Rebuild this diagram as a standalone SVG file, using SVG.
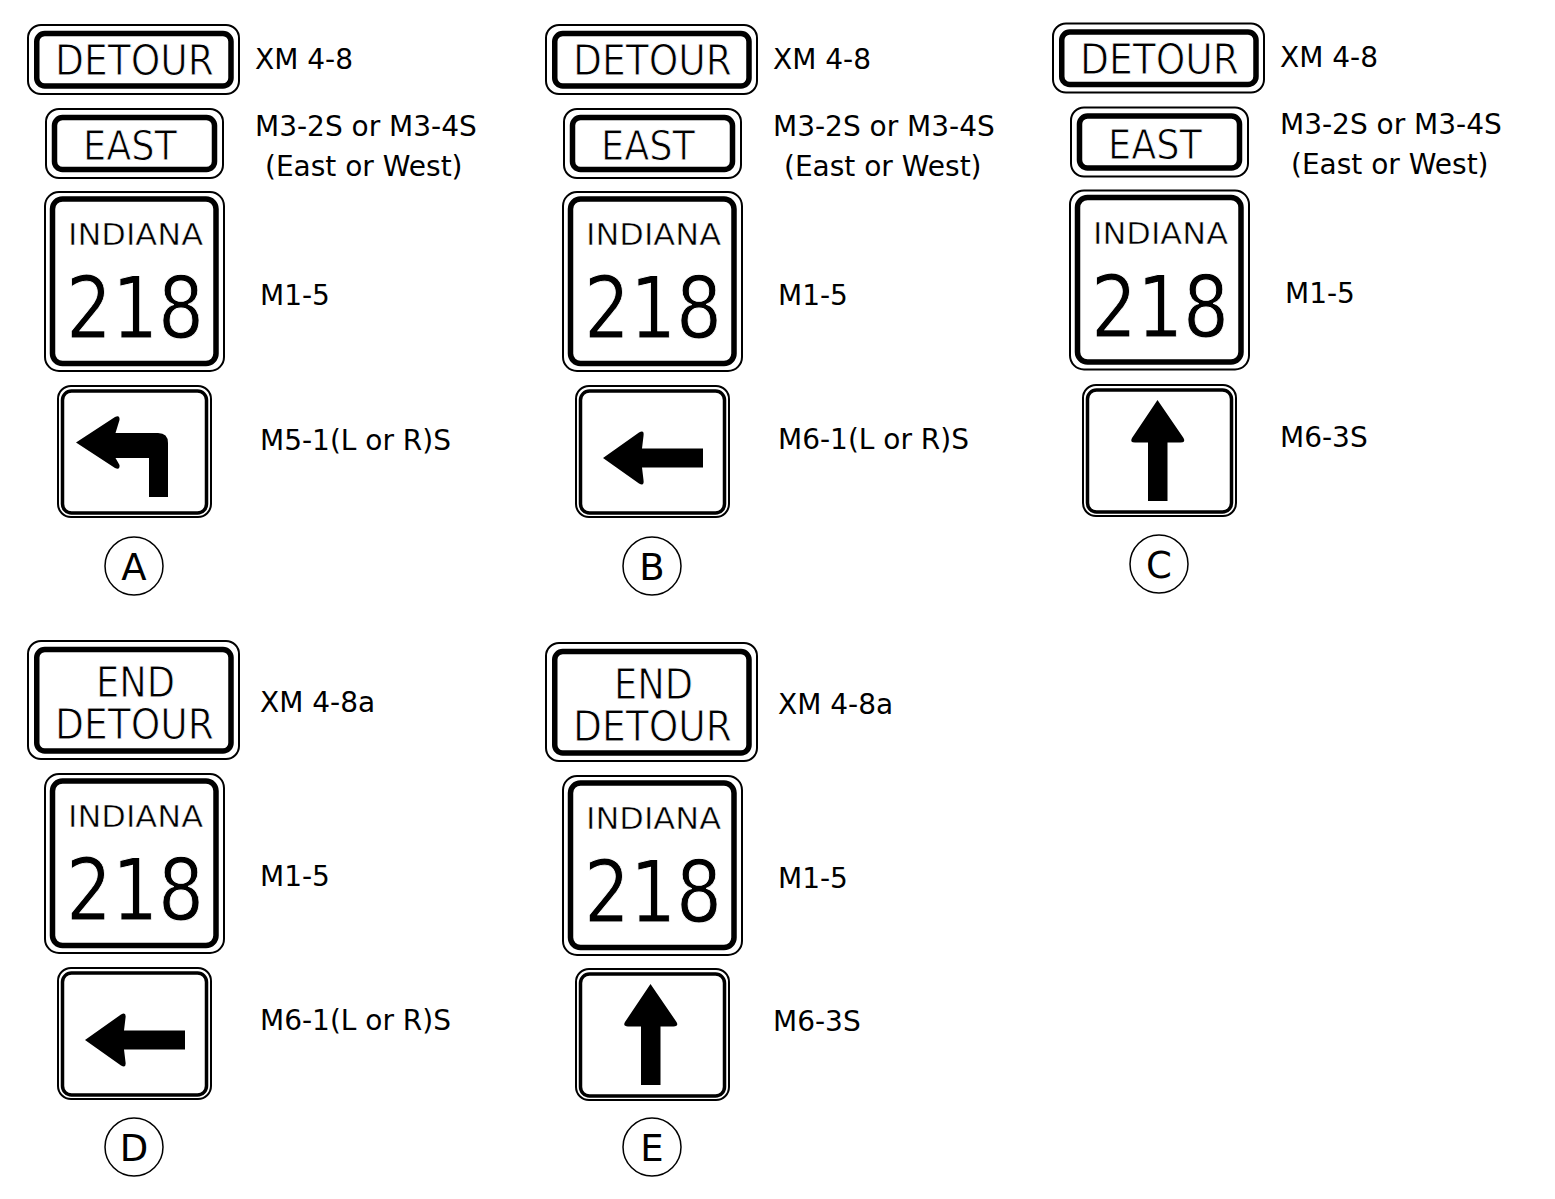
<svg xmlns="http://www.w3.org/2000/svg" width="1555" height="1199" viewBox="0 0 1555 1199">
<style>
.o{fill:#fff;stroke:#000;stroke-width:2}
.t{fill:none;stroke:#000;stroke-width:5.5}
.a{fill:none;stroke:#000;stroke-width:3.5}
.ar{fill:#000;stroke:none}
.s{font-family:"DejaVu Sans",Verdana,sans-serif;fill:#000;stroke:#fff;stroke-width:0.9}
.s2{font-family:"DejaVu Sans",Verdana,sans-serif;fill:#000;stroke:#fff;stroke-width:0.5}
.lbl{font-family:"DejaVu Sans",Verdana,sans-serif;font-size:28px;fill:#000}
.c{fill:#fff;stroke:#000;stroke-width:1.5}
.cl{font-family:"DejaVu Sans",Verdana,sans-serif;font-size:37px;text-anchor:middle;fill:#000}
</style>
<defs>
<g id="detour">
<rect class="o" x="28" y="25" width="211" height="69" rx="13"/>
<rect class="t" x="36.75" y="33.5" width="194.25" height="52.5" rx="8"/>
<text class="s" x="55" y="75" font-size="42" textLength="159" lengthAdjust="spacingAndGlyphs">DETOUR</text>
</g>
<g id="east">
<rect class="o" x="46" y="109" width="177" height="69" rx="13"/>
<rect class="t" x="54.5" y="117.5" width="160" height="52" rx="8"/>
<text class="s" x="83" y="160" font-size="41" textLength="94" lengthAdjust="spacingAndGlyphs">EAST</text>
</g>
<g id="indiana">
<rect class="o" x="45" y="192" width="179" height="179" rx="14"/>
<rect class="t" x="52.5" y="199" width="163.5" height="164.5" rx="10"/>
<text class="s2" x="68" y="245" font-size="30" textLength="135" lengthAdjust="spacingAndGlyphs">INDIANA</text>
<text class="s" x="66" y="338" font-size="85" textLength="138" lengthAdjust="spacingAndGlyphs">218</text>
</g>
<g id="plaque">
<rect class="o" x="58" y="386" width="153" height="131" rx="13"/>
<rect class="a" x="62.5" y="391" width="144" height="122" rx="9"/>
</g>
<path id="turnL" class="ar" d="M19,57.5 L58,32 Q63,29.5 62.5,35 L58.5,48 L101,48 Q111,48 111,58 L111,112 L92,112 L92,73 L58.5,73 L62.5,80 Q63,85.5 58,83 Z"/>
<path id="left" class="ar" d="M28,73 L64,47.5 Q69.5,44.5 68.5,51 L67,63.5 L128,63.5 L128,82.5 L67,82.5 L68.5,95 Q69.5,101.5 64,98.5 Z"/>
<path id="up" class="ar" d="M75.5,16 L101.5,54 Q104,58.5 98.5,58.5 L85.5,58.5 L85.5,117 L66,117 L66,58.5 L53,58.5 Q47.5,58.5 50,54 Z"/>
<g id="enddetour">
<rect class="o" x="28" y="641" width="211" height="118" rx="13"/>
<rect class="t" x="36.75" y="649.5" width="194.25" height="101.5" rx="8"/>
<text class="s" x="96" y="697" font-size="42" textLength="79" lengthAdjust="spacingAndGlyphs">END</text>
<text class="s" x="55" y="739" font-size="42" textLength="159" lengthAdjust="spacingAndGlyphs">DETOUR</text>
</g>
</defs>

<g id="connectors"></g>

<!-- Column A -->
<g id="A-detour"><use href="#detour"/><text class="lbl" x="255" y="69">XM 4-8</text></g>
<g id="A-east"><use href="#east"/><text class="lbl" x="255" y="136">M3-2S or M3-4S</text><text class="lbl" x="265" y="176">(East or West)</text></g>
<g id="A-route"><use href="#indiana"/><text class="lbl" x="260" y="305">M1-5</text></g>
<g id="A-arrow"><use href="#plaque"/><use href="#turnL" transform="translate(57,385)"/><text class="lbl" x="260" y="450">M5-1(L or R)S</text></g>
<g id="A-label"><circle class="c" cx="134" cy="566" r="29"/><text class="cl" x="134" y="580">A</text></g>

<!-- Column B -->
<g id="B-detour"><use href="#detour" transform="translate(518,0)"/><text class="lbl" x="773" y="69">XM 4-8</text></g>
<g id="B-east"><use href="#east" transform="translate(518,0)"/><text class="lbl" x="773" y="136">M3-2S or M3-4S</text><text class="lbl" x="784" y="176">(East or West)</text></g>
<g id="B-route"><use href="#indiana" transform="translate(518,0)"/><text class="lbl" x="778" y="305">M1-5</text></g>
<g id="B-arrow"><use href="#plaque" transform="translate(518,0)"/><use href="#left" transform="translate(575,385)"/><text class="lbl" x="778" y="449">M6-1(L or R)S</text></g>
<g id="B-label"><circle class="c" cx="652" cy="566" r="29"/><text class="cl" x="652" y="580">B</text></g>

<!-- Column C -->
<g id="C-detour"><use href="#detour" transform="translate(1025,-1.5)"/><text class="lbl" x="1280" y="67">XM 4-8</text></g>
<g id="C-east"><use href="#east" transform="translate(1025,-1.5)"/><text class="lbl" x="1280" y="134">M3-2S or M3-4S</text><text class="lbl" x="1291" y="174">(East or West)</text></g>
<g id="C-route"><use href="#indiana" transform="translate(1025,-1.5)"/><text class="lbl" x="1285" y="303">M1-5</text></g>
<g id="C-arrow"><use href="#plaque" transform="translate(1025,-1)"/><use href="#up" transform="translate(1082,384)"/><text class="lbl" x="1280" y="447">M6-3S</text></g>
<g id="C-label"><circle class="c" cx="1159" cy="564" r="29"/><text class="cl" x="1159" y="578">C</text></g>

<!-- Column D -->
<g id="D-enddetour"><use href="#enddetour"/><text class="lbl" x="260" y="712">XM 4-8a</text></g>
<g id="D-route"><use href="#indiana" transform="translate(0,582)"/><text class="lbl" x="260" y="886">M1-5</text></g>
<g id="D-arrow"><use href="#plaque" transform="translate(0,582)"/><use href="#left" transform="translate(57,967)"/><text class="lbl" x="260" y="1030">M6-1(L or R)S</text></g>
<g id="D-label"><circle class="c" cx="134" cy="1147" r="29"/><text class="cl" x="134" y="1161">D</text></g>

<!-- Column E -->
<g id="E-enddetour"><use href="#enddetour" transform="translate(518,2)"/><text class="lbl" x="778" y="714">XM 4-8a</text></g>
<g id="E-route"><use href="#indiana" transform="translate(518,584)"/><text class="lbl" x="778" y="888">M1-5</text></g>
<g id="E-arrow"><use href="#plaque" transform="translate(518,583)"/><use href="#up" transform="translate(575,968)"/><text class="lbl" x="773" y="1031">M6-3S</text></g>
<g id="E-label"><circle class="c" cx="652" cy="1147" r="29"/><text class="cl" x="652" y="1161">E</text></g>
</svg>
